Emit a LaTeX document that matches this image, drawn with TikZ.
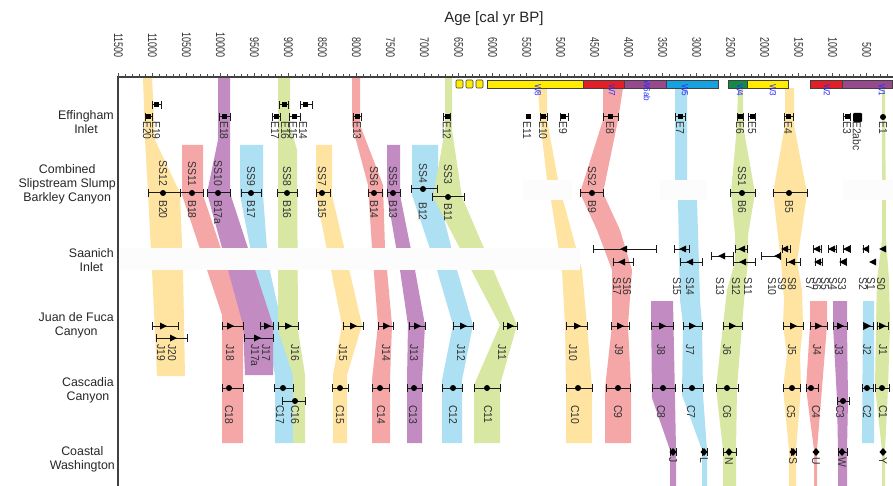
\documentclass[tikz,border=0pt]{standalone}
\usepackage{fontspec}
\setmainfont{Liberation Sans}
\newfontfamily\narrowsf[FakeStretch=0.9]{Liberation Sans}
\newfontfamily\ticksf[FakeStretch=0.72]{Liberation Sans}

\definecolor{bYel}{RGB}{254,228,160}
\definecolor{bRed}{RGB}{245,166,166}
\definecolor{bPur}{RGB}{194,140,194}
\definecolor{bBlu}{RGB}{172,224,242}
\definecolor{bGrn}{RGB}{216,231,162}
\definecolor{wYel}{RGB}{255,236,0}
\definecolor{wRed}{RGB}{226,30,38}
\definecolor{wPur}{RGB}{152,72,140}
\definecolor{wBlu}{RGB}{22,162,222}
\definecolor{wGrn}{RGB}{16,140,70}
\definecolor{wLab}{RGB}{45,45,255}

\tikzset{
  ebar/.style={line width=1pt, black!90},
  wbar/.style={draw=black!75, line width=0.6pt},
  veil/.style={fill=white!99!black},
  lab/.style={rotate=-90, anchor=west, inner sep=0pt, text=black!80, font=\narrowsf\fontsize{11.5}{11.5}\selectfont},
  labE/.style={lab, anchor=east},
  wlab/.style={rotate=-90, anchor=west, inner sep=0pt, text=wLab, font=\narrowsf\fontsize{9}{9}\selectfont},
  ticklab/.style={rotate=-90, anchor=east, inner sep=0pt, text=black!80, font=\ticksf\fontsize{12.5}{12.5}\selectfont},
  rowlab/.style={anchor=east, align=center, inner sep=0pt, text=black!85, font=\fontsize{12.4}{14}\selectfont}
}

\newcommand{\errbar}[3]{\draw[ebar] (#2,#1-4) -- (#2,#1+4) (#2,#1) -- (#3,#1) (#3,#1-4) -- (#3,#1+4);}
\newcommand{\mkSq}[2]{\fill (#1-2.5,#2-2.5) rectangle (#1+2.5,#2+2.5);}
\newcommand{\mkDot}[2]{\fill (#1,#2) circle (3pt);}
\newcommand{\mkTriR}[2]{\fill (#1-3,#2-3.5) -- (#1+4,#2) -- (#1-3,#2+3.5) -- cycle;}
\newcommand{\mkTriL}[2]{\fill (#1+3,#2-3.5) -- (#1-4,#2) -- (#1+3,#2+3.5) -- cycle;}
\newcommand{\mkDia}[2]{\fill (#1,#2-4) -- (#1+3.5,#2) -- (#1,#2+4) -- (#1-3.5,#2) -- cycle;}

\begin{document}
\begin{tikzpicture}[x=1pt, y=-1pt]
\useasboundingbox (0,0) rectangle (893,486);

\fill[bYel] (143,77) -- (145,140) -- (148,193) -- (152,270) -- (157,376) -- (185,376) -- (183,270) -- (180,193) -- (155,140) -- (152,77) -- cycle;
\fill[bRed] (182,145) -- (182,195) -- (222,315) -- (222,443) -- (243,443) -- (243,315) -- (203,195) -- (203,145) -- cycle;
\fill[bBlu] (240,145) -- (240,195) -- (275,375) -- (275,443) -- (293,443) -- (293,375) -- (268,262) -- (263,195) -- (263,145) -- cycle;
\fill[bPur] (218,77) -- (218,140) -- (207,193) -- (243,325) -- (245,375) -- (273,375) -- (273,325) -- (230,193) -- (230,77) -- cycle;
\fill[bGrn] (278,77) -- (278,330) -- (293,375) -- (293,443) -- (305,443) -- (305,375) -- (298,330) -- (297,150) -- (290,125) -- (290,77) -- cycle;
\fill[bYel] (316,145) -- (316,195) -- (342,325) -- (333,375) -- (333,443) -- (347,443) -- (347,375) -- (362,325) -- (332,195) -- (332,145) -- cycle;
\fill[bRed] (352,77) -- (352,125) -- (368,185) -- (372,248) -- (378,325) -- (372,380) -- (372,443) -- (390,443) -- (390,380) -- (392,325) -- (385,248) -- (383,185) -- (360,125) -- (360,77) -- cycle;
\fill[bPur] (387,145) -- (387,195) -- (400,270) -- (408,325) -- (407,380) -- (407,443) -- (422,443) -- (422,380) -- (425,325) -- (415,270) -- (400,195) -- (400,145) -- cycle;
\fill[bBlu] (412,145) -- (412,195) -- (437,270) -- (453,325) -- (442,380) -- (442,443) -- (462,443) -- (462,380) -- (473,325) -- (457,270) -- (438,195) -- (438,145) -- cycle;
\fill[bGrn] (445,77) -- (445,130) -- (433,197) -- (500,325) -- (474,385) -- (474,443) -- (500,443) -- (500,385) -- (517,325) -- (462,197) -- (452,130) -- (452,77) -- cycle;
\fill[bYel] (538,88) -- (540,120) -- (547,180) -- (551,200) -- (562,270) -- (565,325) -- (566,388) -- (566,443) -- (592,443) -- (592,388) -- (587,325) -- (582,270) -- (563,200) -- (558,180) -- (547,120) -- (547,88) -- cycle;
\fill[bRed] (603,88) -- (603,120) -- (580,193) -- (597,230) -- (612,270) -- (612,325) -- (605,388) -- (605,443) -- (631,443) -- (631,388) -- (628,325) -- (632,270) -- (620,230) -- (603,193) -- (618,120) -- (623,88) -- cycle;
\fill[bPur] (651,301) -- (652,398) -- (670,450) -- (670,486) -- (676,486) -- (676,450) -- (675,398) -- (673,301) -- cycle;
\fill[bBlu] (675,88) -- (675,180) -- (678,200) -- (680,300) -- (683,325) -- (682,395) -- (702,450) -- (702,486) -- (707,486) -- (707,450) -- (703,395) -- (702,325) -- (700,300) -- (697,200) -- (687,180) -- (687,88) -- cycle;
\fill[bGrn] (738,88) -- (737,125) -- (731,193) -- (735,235) -- (735,262) -- (727,290) -- (723,325) -- (716,388) -- (723,450) -- (723,486) -- (736,486) -- (736,450) -- (737,388) -- (742,325) -- (745,290) -- (748,262) -- (748,235) -- (755,193) -- (743,125) -- (743,88) -- cycle;
\fill[bYel] (785,88) -- (785,125) -- (773,193) -- (781,262) -- (784,300) -- (783,325) -- (787,355) -- (783,388) -- (789,450) -- (789,486) -- (796,486) -- (796,450) -- (801,388) -- (800,355) -- (803,325) -- (802,290) -- (797,262) -- (807,193) -- (794,125) -- (794,88) -- cycle;
\fill[bRed] (810,301) -- (810,325) -- (806,388) -- (814,450) -- (814,486) -- (817,486) -- (817,450) -- (822,388) -- (827,325) -- (827,301) -- cycle;
\fill[bPur] (833,301) -- (833,325) -- (837,400) -- (838,450) -- (838,486) -- (847,486) -- (847,450) -- (848,400) -- (847,325) -- (847,301) -- cycle;
\fill[bBlu] (863,301) -- (862,443) -- (874,443) -- (874,301) -- cycle;
\fill[bGrn] (882,88) -- (882,240) -- (877,280) -- (876,325) -- (875,388) -- (882,450) -- (882,486) -- (885,486) -- (885,450) -- (888,388) -- (890,325) -- (889,280) -- (886,240) -- (885,88) -- cycle;

\fill[veil] (120,248) rectangle (580,270);
\fill[veil] (523,180) rectangle (572,200);
\fill[veil] (660,180) rectangle (707,200);
\fill[veil] (843,180) rectangle (893,200);

\foreach \a/\b in {456/463,466/473,476/483}
  \filldraw[wbar, fill=wYel, rounded corners=1pt] (\a,80) rectangle (\b,88);
\filldraw[wbar, fill=wYel] (487,80) rectangle (583,88);
\filldraw[wbar, fill=wRed] (583,80) rectangle (624,88);
\filldraw[wbar, fill=wPur] (624,80) rectangle (666,88);
\filldraw[wbar, fill=wBlu] (666,80) rectangle (718,88);
\filldraw[wbar, fill=wGrn] (728,80) rectangle (747,88);
\filldraw[wbar, fill=wYel] (747,80) rectangle (788,88);
\filldraw[wbar, fill=wRed] (810,80) rectangle (842,88);
\filldraw[wbar, fill=wPur] (842,80) rectangle (892,88);
\foreach \x/\y/\t in {538/84/W8, 612/84/W7, 647/80/W6ab, 685/84/W5, 740/84/W4, 773/84/W3, 827/84/W2, 882/84/W1}
  \node[wlab] (w\t) at (\x,\y) {\t};

\draw[black!75, line width=1.3pt] (893,77) -- (118,77) -- (118,486);
\foreach \a in {200,300,...,11500}
  \draw[black!70, line width=0.5pt] ({900.7-0.06802*\a},77) -- ++(0,-2.5);
\foreach \a in {500,1000,...,11500} {
  \draw[black!70, line width=0.6pt] ({900.7-0.06802*\a},77) -- ++(0,-4);
  \node[ticklab] (t\a) at ({900.7-0.06802*\a},58) {\a};
}
\node[text=black!85, font=\fontsize{15}{18}\selectfont] (title) at (494,19) {Age [cal yr BP]};

\node[rowlab] (effingham) at (114,122) {Effingham\\Inlet};
\node[rowlab] (barkley) at (116,184) {Combined\\Slipstream Slump\\Barkley Canyon};
\node[rowlab] (saanich) at (114,260) {Saanich\\Inlet};
\node[rowlab] (juan) at (114,325) {Juan de Fuca\\Canyon};
\node[rowlab] (cascadia) at (114,390) {Cascadia\\Canyon};
\node[rowlab] (coastal) at (115,459) {Coastal\\Washington};

\foreach \x/\y/\lo/\hi in {156/105/152/161, 284/105/279/288, 305/105/300/312, 148/117/145/152, 224/117/219/230, 276/117/272/280, 294/117/289/300, 357/117/353/361, 447/117/443/450, 543/117/540/547, 563/117/560/568, 610/117/603/618, 680/117/675/685, 740/117/737/743, 752/117/748/755, 788/117/784/793, 847/117/843/850}
  {\errbar{\y}{\lo}{\hi} \mkSq{\x}{\y}}
\mkSq{528}{117}
\mkDot{883}{117}
\fill[rounded corners=1pt] (853,113) rectangle (862,122);

\foreach \x/\y/\lo/\hi in {163/193/148/180, 192/193/180/203, 218/193/207/230, 251/193/241/261, 287/193/277/297, 322/193/316/330, 374/193/368/382, 393/193/387/400, 423/189/411/437, 448/197/432/464, 592/193/580/603, 742/193/730/755, 789/193/773/807}
  {\errbar{\y}{\lo}{\hi} \mkDot{\x}{\y}}

\foreach \x/\y/\lo/\hi in {624/249/593/656, 683/249/674/689, 742/249/735/747, 785/249/782/790, 817/249/813/821, 832/249/828/836, 847/249/843/850, 866/249/863/868, 722/256/711/733, 778/256/761/780, 622/262/613/633, 690/262/680/702, 743/262/733/755, 792/262/786/800, 818/262/815/822, 843/262/840/846}
  {\errbar{\y}{\lo}{\hi} \mkTriL{\x}{\y}}
\mkTriL{883}{249}
\mkTriL{873}{262}

\foreach \x/\y/\lo/\hi in {163/326/152/178, 230/326/222/243, 267/326/260/273, 288/326/278/298, 353/326/343/363, 386/326/378/393, 417/326/409/425, 463/326/453/473, 510/326/503/517, 577/326/566/587, 620/326/611/629, 662/326/651/673, 692/326/683/702, 732/326/723/742, 793/326/783/803, 818/326/810/827, 840/326/833/847, 867/326/863/873, 882/326/877/888, 173/338/156/187, 257/338/244/273}
  {\errbar{\y}{\lo}{\hi} \mkTriR{\x}{\y}}

\foreach \x/\y/\lo/\hi in {229/388/222/243, 283/388/274/293, 295/401/282/305, 340/388/332/348, 380/388/372/389, 414/388/407/422, 453/388/442/462, 487/388/474/500, 578/388/566/592, 618/388/606/630, 663/388/652/675, 692/388/682/703, 727/388/716/738, 792/388/783/800, 811/388/806/818, 843/401/837/849, 867/388/862/873, 882/388/875/889}
  {\errbar{\y}{\lo}{\hi} \mkDot{\x}{\y}}

\foreach \x/\y/\lo/\hi in {673/452/670/676, 704/452/702/707, 729/452/723/736, 793/452/791/796, 842/452/838/847}
  {\errbar{\y}{\lo}{\hi} \mkDia{\x}{\y}}
\mkDia{816}{452}
\mkDia{883}{452}

\foreach \x/\t in {147/E20, 156/E19, 224/E18, 275/E17, 285/E16, 293/E15, 303/E14, 357/E13, 447/E12, 527/E11, 543/E10, 563/E9, 610/E8, 680/E7, 740/E6, 752/E5, 788/E4, 847/E3, 857/E2abc, 883/E1}
  \node[lab] (l\t) at (\x,121) {\t};
\foreach \x/\y/\t in {163/186/SS12, 192/186/SS11, 218/186/SS10, 251/186/SS9, 287/186/SS8, 322/186/SS7, 374/186/SS6, 393/186/SS5, 423/183/SS4, 448/184/SS3, 592/186/SS2, 742/186/SS1}
  \node[labE] (l\t) at (\x,\y) {\t};
\foreach \x/\y/\t in {163/200/B20, 192/200/B18, 218/200/B17a, 251/200/B17, 287/200/B16, 322/200/B15, 374/200/B14, 393/200/B13, 423/202/B12, 448/203/B11, 592/200/B9, 742/200/B6, 789/200/B5}
  \node[lab] (l\t) at (\x,\y) {\t};
\foreach \x/\t in {617/S17, 627/S16, 677/S15, 690/S14, 720/S13, 736/S12, 748/S11, 772/S10, 782/S9, 792/S8, 810/S7, 817/S6, 825/S5, 833/S4, 842/S3, 863/S2, 871/S1, 881/S0}
  \node[lab] (l\t) at (\x,277) {\t};
\foreach \x/\t in {161/J19, 172/J20, 230/J18, 255/J17a, 266/J17, 295/J16, 343/J15, 386/J14, 414/J13, 461/J12, 502/J11, 573/J10, 619/J9, 661/J8, 690/J7, 727/J6, 792/J5, 817/J4, 839/J3, 867/J2, 883/J1}
  \node[lab] (l\t) at (\x,344) {\t};
\foreach \x/\t in {229/C18, 280/C17, 295/C16, 340/C15, 381/C14, 413/C13, 453/C12, 488/C11, 575/C10, 618/C9, 661/C8, 691/C7, 727/C6, 791/C5, 816/C4, 840/C3, 867/C2, 883/C1}
  \node[lab] (l\t) at (\x,405) {\t};
\foreach \x/\t in {673/J, 704/L, 729/N, 793/S, 816/U, 842/W, 883/Y}
  \node[lab] (cw\t) at (\x,457) {\t};
\end{tikzpicture}
\end{document}
